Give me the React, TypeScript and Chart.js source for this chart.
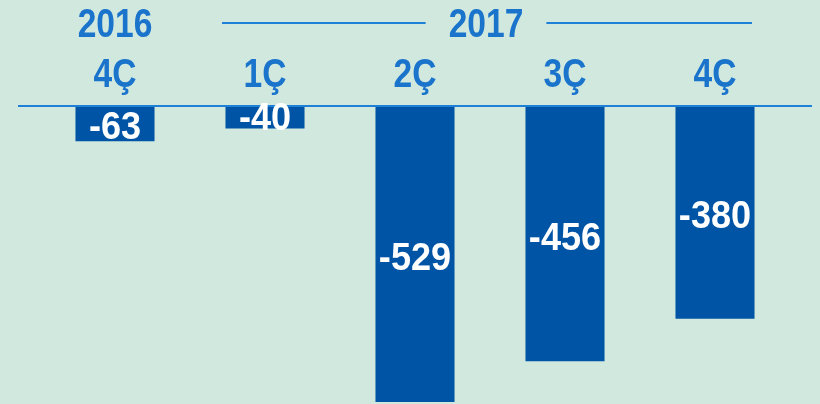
import React, { useEffect, useRef } from "react";
import { Chart, registerables } from "chart.js";

Chart.register(...registerables);

const categories = ["4Ç", "1Ç", "2Ç", "3Ç", "4Ç"];
const values = [-63, -40, -529, -456, -380];
const yearLabels = ["2016", "2017"];

const BG = "#d1e8de";
const BAR = "#0054a6";
const TXT = "#1a74cc";
const LINE = "#1e80d6";
const FONT = '"Liberation Sans", Arial, sans-serif';

function scaledText(ctx: any, text: string, x: number, y: number, sx: number) {
  ctx.save();
  ctx.translate(x, y);
  ctx.scale(sx, 1);
  ctx.fillText(text, 0, 0);
  ctx.restore();
}

const decorPlugin = {
  id: "decor",
  beforeDraw(chart: any) {
    const { ctx, width, height } = chart;
    ctx.save();
    ctx.fillStyle = BG;
    ctx.fillRect(0, 0, width, height);
    ctx.restore();
  },
  afterDatasetsDraw(chart: any) {
    const { ctx, scales } = chart;
    const x = scales.x;
    const y = scales.y;
    const y0 = y.getPixelForValue(0);
    ctx.save();
    // baseline
    ctx.strokeStyle = LINE;
    ctx.lineWidth = 2;
    ctx.beginPath();
    ctx.moveTo(18, y0);
    ctx.lineTo(812, y0);
    ctx.stroke();
    // quarter labels
    const SX = 0.84;
    ctx.fillStyle = TXT;
    ctx.font = `bold 40px ${FONT}`;
    ctx.textAlign = "center";
    ctx.textBaseline = "alphabetic";
    categories.forEach((c, i) => {
      scaledText(ctx, c, x.getPixelForValue(i), 87, SX);
    });
    // year labels
    const x2016 = x.getPixelForValue(0);
    const x2017 = (x.getPixelForValue(1) + x.getPixelForValue(4)) / 2 - 4;
    scaledText(ctx, yearLabels[0], x2016, 37, SX);
    scaledText(ctx, yearLabels[1], x2017, 37, SX);
    const w = ctx.measureText(yearLabels[1]).width * SX;
    ctx.strokeStyle = LINE;
    ctx.lineWidth = 2;
    ctx.beginPath();
    ctx.moveTo(222, 23);
    ctx.lineTo(x2017 - w / 2 - 23, 23);
    ctx.moveTo(x2017 + w / 2 + 23, 23);
    ctx.lineTo(752, 23);
    ctx.stroke();
    // value labels
    ctx.fillStyle = "#ffffff";
    ctx.font = `bold 38px ${FONT}`;
    const meta = chart.getDatasetMeta(0);
    meta.data.forEach((bar: any, i: number) => {
      const bottom = Math.max(bar.y, bar.base);
      const center = (bar.y + bar.base) / 2;
      let baseline = Math.min(center + 16, bottom - 2);
      baseline = Math.max(baseline, y0 + 24);
      scaledText(ctx, String(values[i]), bar.x, baseline, 0.95);
    });
    ctx.restore();
  },
};

export default function App() {
  const ref = useRef<HTMLCanvasElement>(null);
  useEffect(() => {
    if (!ref.current) return;
    const chart = new Chart(ref.current, {
      type: "bar",
      data: {
        labels: categories,
        datasets: [
          {
            data: values,
            backgroundColor: BAR,
            borderWidth: 0,
            barPercentage: 0.527,
            categoryPercentage: 1,
          },
        ],
      },
      options: {
        animation: false,
        responsive: false,
        maintainAspectRatio: false,
        layout: { padding: { top: 106, bottom: 2, left: 40, right: 30 } },
        plugins: { legend: { display: false }, tooltip: { enabled: false } },
        scales: {
          x: { display: false },
          y: { display: false, min: -529, max: 0 },
        },
      },
      plugins: [decorPlugin],
    });
    return () => chart.destroy();
  }, []);
  return (
    <div style={{ position: "fixed", left: 0, top: 0, width: 820, height: 404, background: BG }}>
      <canvas ref={ref} width={820} height={404} style={{ display: "block" }} />
    </div>
  );
}
